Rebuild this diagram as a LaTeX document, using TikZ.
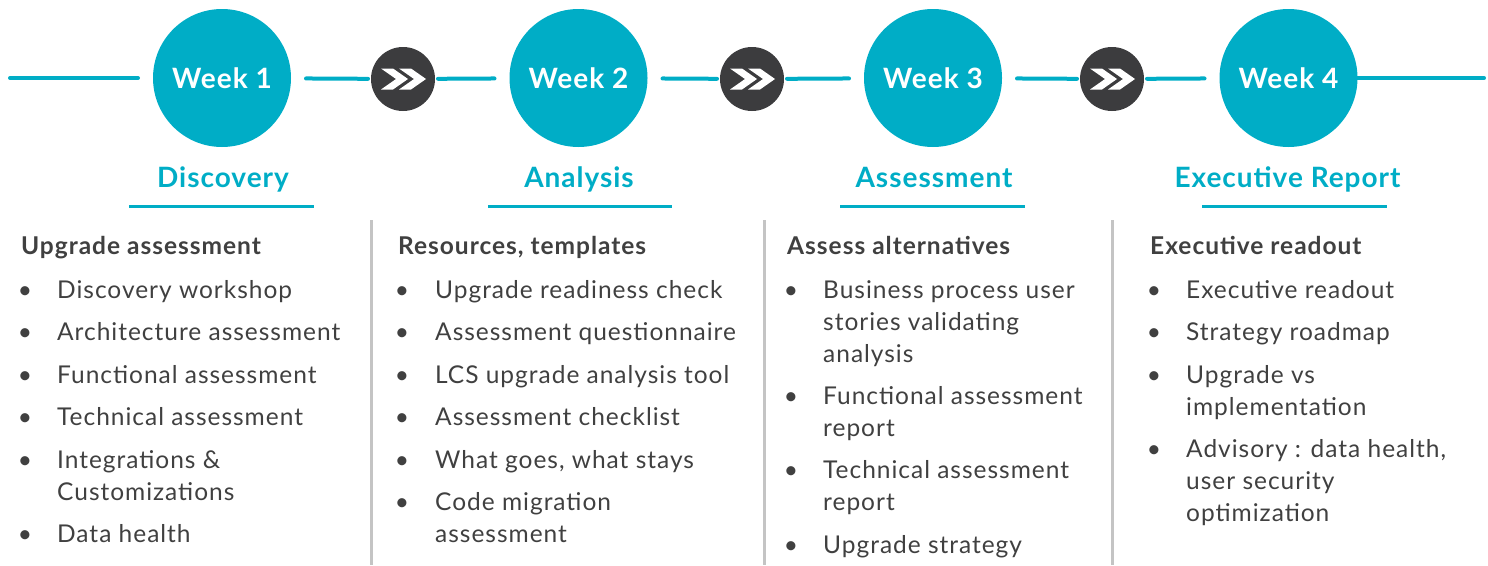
\documentclass[tikz,border=0pt]{standalone}
\usepackage{fontspec}
\setmainfont{Lato}
\newfontfamily\bodyfont[LetterSpace=4]{Lato}
\newfontfamily\headfont[LetterSpace=3.5]{Lato}
\definecolor{tealc}{HTML}{00ADC6}
\definecolor{darkc}{HTML}{3C3C3E}
\definecolor{textc}{HTML}{404040}
\definecolor{sepc}{HTML}{C4C4C4}
\newcommand\myitem[5]{%
  \node[bul] (#1b) at (#2,#4) {•};
  \node[itm] (#1) at (#3,#4) {\parbox[t]{330pt}{#5}};
}
\tikzset{
  week/.style={circle, fill=tealc, minimum size=138pt, inner sep=0pt, outer sep=15pt,
    text=white, font=\headfont\fontsize{28}{30}\selectfont\bfseries},
  arrowc/.style={circle, fill=darkc, minimum size=64pt, inner sep=0pt, outer sep=3pt},
  tline/.style={draw=tealc, line width=4pt, line cap=round},
  phase/.style={text=tealc, font=\headfont\fontsize{28}{30}\selectfont\bfseries, anchor=base, inner sep=0pt},
  uline/.style={draw=tealc, line width=3pt},
  sepline/.style={draw=sepc, line width=3pt},
  hdr/.style={text=textc, font=\bodyfont\fontsize{24.5}{32}\selectfont\bfseries, anchor=base west, inner sep=0pt},
  bul/.style={text=textc, font=\fontsize{24.5}{32}\selectfont, anchor=base, inner sep=0pt},
  itm/.style={text=textc, font=\bodyfont\fontsize{24.5}{32}\selectfont, anchor=base west, inner sep=0pt},
  chev/.pic={
    \fill[white] (-22,-10.5) -- (-10,-10.5) -- (5,0) -- (-10,10.5) -- (-22,10.5) -- (-7,0) -- cycle;
    \fill[white] (-4,-10.5) -- (8,-10.5) -- (23,0) -- (8,10.5) -- (-4,10.5) -- (11,0) -- cycle;
  }
}
\begin{document}
\begin{tikzpicture}[x=1pt,y=-1pt]
\useasboundingbox (0,0) rectangle (1488,565);
% timeline
\node[week] (w1) at (222,78) {Week 1};
\node[week] (w2) at (578.5,78) {Week 2};
\node[week] (w3) at (933,78) {Week 3};
\node[week] (w4) at (1288.5,78) {Week 4};
\node[arrowc] (d1) at (403,79) {};
\node[arrowc] (d2) at (752,79) {};
\node[arrowc] (d3) at (1112,79) {};
\pic at (d1) {chev};
\pic at (d2) {chev};
\pic at (d3) {chev};
\coordinate (L) at (10,78);
\coordinate (R) at (1484,78);
\draw[tline] (L) -- (w1);
\draw[tline] (w1) -- (d1);
\draw[tline] (d1) -- (w2);
\draw[tline] (w2) -- (d2);
\draw[tline] (d2) -- (w3);
\draw[tline] (w3) -- (d3);
\draw[tline] (d3) -- (w4);
\draw[tline, shorten <=-15pt] (w4) -- (R);
% phase titles
\node[phase] (h1) at (223,187) {Discovery};
\node[phase] (h2) at (579,187) {Analysis};
\node[phase] (h3) at (934,187) {Assessment};
\node[phase] (h4) at (1287.5,187) {Executive Report};
\draw[uline] (129,206.5) -- (314,206.5);
\draw[uline] (488,206.5) -- (672,206.5);
\draw[uline] (840,206.5) -- (1025,206.5);
\draw[uline] (1202,206.5) -- (1387,206.5);
% separators
\draw[sepline] (371.5,220) -- (371.5,565);
\draw[sepline] (764,220) -- (764,565);
\draw[sepline] (1112,220) -- (1112,565);
% column 1
\node[hdr] (c1) at (21,254) {Upgrade assessment};
\myitem{a1}{25}{57}{298}{Discovery workshop}
\myitem{a2}{25}{57}{340.5}{Architecture assessment}
\myitem{a3}{25}{57}{383}{Functional assessment}
\myitem{a4}{25}{57}{425.5}{Technical assessment}
\myitem{a5}{25}{57}{468}{Integrations \&\\Customizations}
\myitem{a6}{25}{57}{542.5}{Data health}
% column 2
\node[hdr] (c2) at (398,254) {Resources, templates};
\myitem{b1}{402}{435}{298}{Upgrade readiness check}
\myitem{b2}{402}{435}{340.5}{Assessment questionnaire}
\myitem{b3}{402}{435}{383}{LCS upgrade analysis tool}
\myitem{b4}{402}{435}{425.5}{Assessment checklist}
\myitem{b5}{402}{435}{468}{What goes, what stays}
\myitem{b6}{402}{435}{510.5}{Code migration\\assessment}
% column 3
\node[hdr] (c3) at (787,254) {Assess alternatives};
\myitem{e1}{791}{823}{298}{Business process user\\stories validating\\analysis}
\myitem{e2}{791}{823}{404}{Functional assessment\\report}
\myitem{e3}{791}{823}{478.5}{Technical assessment\\report}
\myitem{e4}{791}{823}{553}{Upgrade strategy}
% column 4
\node[hdr] (c4) at (1150,254) {Executive readout};
\myitem{f1}{1154}{1186}{298}{Executive readout}
\myitem{f2}{1154}{1186}{340.5}{Strategy roadmap}
\myitem{f3}{1154}{1186}{383}{Upgrade vs\\implementation}
\myitem{f4}{1154}{1186}{457.5}{Advisory : data health,\\user security\\optimization}
\end{tikzpicture}
\end{document}
